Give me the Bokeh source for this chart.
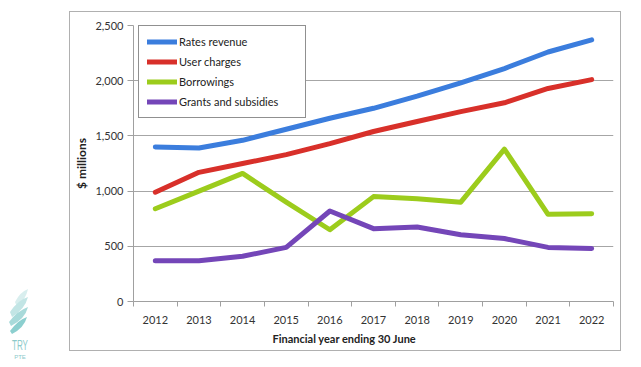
from bokeh.plotting import figure
from bokeh.models import (Legend, LegendItem, NumeralTickFormatter, FixedTicker,
                          Range1d, Title, Div)
from bokeh.layouts import row
from bokeh.embed import file_html
from bokeh.resources import INLINE

years = [2012, 2013, 2014, 2015, 2016, 2017, 2018, 2019, 2020, 2021, 2022]
rates_revenue = [1400, 1390, 1460, 1560, 1660, 1750, 1860, 1980, 2110, 2260, 2370]
user_charges = [990, 1170, 1250, 1330, 1430, 1540, 1630, 1720, 1800, 1930, 2010]
borrowings = [840, 1000, 1160, 900, 650, 950, 930, 900, 1380, 790, 795]
grants = [370, 370, 410, 490, 820, 660, 675, 605, 570, 490, 480]
series_names = ["Rates revenue", "User charges", "Borrowings", "Grants and subsidies"]
series_colors = ["#3b7ddd", "#d8302a", "#9ccc1c", "#7446b8"]
y_ticks = [0, 500, 1000, 1500, 2000, 2500]
x_title = "Financial year ending 30 June"
y_title = "$ millions"
FONT = "Lato"

p = figure(width=552, height=340, output_backend="svg", toolbar_location=None,
           x_range=Range1d(years[0] - 0.5, years[-1] + 0.5), y_range=Range1d(0, 2500),
           min_border_left=63, min_border_right=9, min_border_top=13, min_border_bottom=51)
p.outline_line_color = None
p.background_fill_color = "white"
p.border_fill_color = "white"
p.margin = (11, 0, 0, 0)
p.styles = {"border": "1px solid #b0b0b0"}

renderers = []
for name, vals, col in zip(series_names, [rates_revenue, user_charges, borrowings, grants], series_colors):
    r = p.line(years, vals, line_color=col, line_width=5, line_join="round", line_cap="round")
    renderers.append((name, r))

# axes
p.xaxis.ticker = FixedTicker(ticks=years, minor_ticks=[y - 0.5 for y in years] + [years[-1] + 0.5])
p.xaxis.major_tick_out = 0
p.xaxis.major_tick_in = 0
p.xaxis.minor_tick_out = 5
p.xaxis.minor_tick_in = 0
p.xaxis.minor_tick_line_color = "#a0a0a0"
p.xaxis.major_label_standoff = 9
p.yaxis.ticker = FixedTicker(ticks=y_ticks)
p.yaxis.formatter = NumeralTickFormatter(format="0,0")
p.yaxis.major_tick_out = 6
p.yaxis.major_tick_in = 0
p.yaxis.minor_tick_line_color = None
p.yaxis.major_label_standoff = 4
for ax in (p.xaxis, p.yaxis):
    ax.axis_line_color = "#a0a0a0"
    ax.major_tick_line_color = "#a0a0a0"
    ax.major_label_text_font = FONT
    ax.major_label_text_font_size = "11px"
    ax.major_label_text_color = "#333333"
p.yaxis.axis_label = y_title
p.yaxis.axis_label_text_font = FONT
p.yaxis.axis_label_text_font_size = "12px"
p.yaxis.axis_label_text_font_style = "bold"
p.yaxis.axis_label_text_color = "#222222"
p.yaxis.axis_label_standoff = 3

p.xgrid.grid_line_color = None
p.ygrid.grid_line_color = "#a6a6a6"
p.ygrid.grid_line_width = 1

# x axis title, placed left of centre as in the source
xt = Title(text=x_title, align="left", offset=139, standoff=6,
           text_font=FONT, text_font_size="11px", text_font_style="bold",
           text_color="#222222")
p.add_layout(xt, "below")

legend = Legend(items=[LegendItem(label=n, renderers=[r]) for n, r in renderers],
                location=(5, 183), padding=8, spacing=5, margin=0,
                label_height=15, glyph_height=15, glyph_width=30, label_standoff=2,
                label_width=118,
                label_text_font=FONT, label_text_font_size="11px", label_text_color="#222222",
                border_line_color="#222222", border_line_width=1,
                background_fill_color="white", background_fill_alpha=1)
p.add_layout(legend)

# watermark logo at left
wm = Div(width=69, height=360, margin=0, text="""
<svg width="69" height="360" xmlns="http://www.w3.org/2000/svg">
  <path d="M15 302 Q20 292 28 289 Q26 299 17 307 Z" fill="#d8eeee"/>
  <path d="M10 312 Q18 300 28 297 Q25 309 12 317 Z" fill="#c2e5e5"/>
  <path d="M9 322 Q17 311 28 307 Q25 319 11 326 Z" fill="#a8dada"/>
  <path d="M10 331 Q18 320 27 317 Q24 328 12 334 Z" fill="#8ccfcf"/>
  <text x="20" y="350" text-anchor="middle" font-family="Lato" font-size="15" textLength="16" lengthAdjust="spacingAndGlyphs" fill="#8ccaca">TRY</text>
  <text x="20" y="359" text-anchor="middle" font-family="Lato" font-size="6" fill="#8ccaca">PTE</text>
</svg>""")

layout = row(wm, p)
open("out.html", "w").write(file_html(layout, INLINE))
